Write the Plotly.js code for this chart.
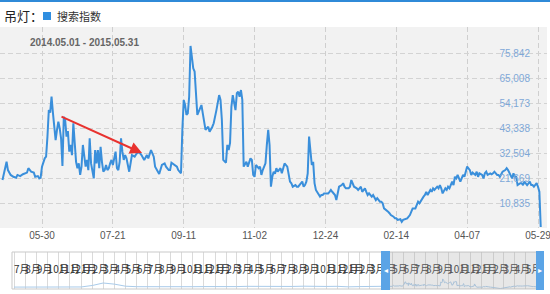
<!DOCTYPE html>
<html><head><meta charset="utf-8">
<script src="https://cdn.plot.ly/plotly-3.0.1.min.js"></script>
<style>html,body{margin:0;padding:0;background:#fff}#chart{width:550px;height:294px}</style>
</head><body><div id="chart"></div>
<script>
// ---------- data ----------
const keywordLabel = '吊灯：';
const seriesName = '搜索指数';
const rangeLabel = '2014.05.01 - 2015.05.31';
const startDate = '2014-05-01';
const dayOffset = [
0,3,4,6,8,10,11,13,15,18,19,21,23,24,26,27,28,29,31,32,33,34,35,36,37,38,39,40,41,42,43,44,45,46,47,48,49,50,51,52,53,54,55,56,57,58,59,61,62,63,64,65,67,68,69,70,71,72,73,74,75,76,77,78,79,80,81,83,84,85,86,87,88,89,90,91,93,94,95,97,98,100,102,104,106,107,109,111,112,115,117,119,120,122,123,124,126,128,129,131,132,133,134,135,136,137,138,139,140,141,142,143,144,146,147,148,149,151,152,154,155,157,158,159,160,161,162,163,164,165,166,167,168,169,170,171,172,173,174,175,176,177,179,180,182,183,184,185,186,188,189,190,191,193,194,195,196,197,198,199,200,201,202,204,205,206,207,209,210,211,212,213,215,216,217,218,220,221,222,223,224,225,226,227,228,229,230,232,233,234,235,236,238,239,240,241,242,244,245,246,247,249,250,251,252,254,255,256,257,258,260,261,262,263,264,266,267,268,269,271,272,273,274,275,277,278,279,280,282,283,284,285,287,288,289,290,292,293,294,295,297,299,300,301,303,304,305,306,308,309,310,311,312,314,315,316,317,319,320,321,322,323,325,326,327,328,330,331,332,333,334,336,337,338,339,340,341,343,344,345,347,348,349,350,352,353,354,355,356,358,359,360,361,363,364,365,366,367,369,370,371,372,374,375,376,377,378,380,381,382,383,385,386,387,388,389,390,391,392,393,394,395
];
const searchIndex = [
20800,28700,25100,23000,22200,21800,23000,22500,23300,24000,25900,24400,24000,22200,22500,21500,21800,26600,30200,30900,39600,51100,50000,56900,50000,42500,38100,42500,46100,43200,38900,26900,48200,46800,39600,42000,33100,36000,31600,45400,35200,28700,25900,28000,23000,26600,36000,26600,29500,25100,38900,28000,21500,33800,28000,33800,25900,35200,28700,24400,25100,27300,25100,25900,28000,29500,27300,33100,25900,25100,28700,38900,33100,29500,31600,30200,24400,28700,31600,30900,31900,33100,31600,29500,31600,30200,33800,30900,26600,23400,27300,28000,26600,25100,25100,28300,27300,26600,25100,23700,42500,55500,53300,49000,49700,56900,78900,74200,69200,67800,56900,49000,50400,53300,49700,46800,42500,43900,41700,43900,45400,51100,54700,57600,55500,46800,29500,28700,28300,36000,33800,36900,52600,57600,53300,51100,58400,59100,56900,59800,55500,26600,28700,26600,30200,29500,23000,22200,27300,25900,26600,23000,25100,28000,36000,42500,36000,17900,22200,24400,23500,25900,24400,25900,23700,25900,28000,26600,22200,20100,19400,17900,18600,17900,17900,18600,20100,17900,18600,20100,23700,39600,32400,27300,28700,19400,16500,14300,13600,14300,14300,15000,15000,15000,15700,16500,15700,14300,12100,15000,17900,18600,19400,17900,17200,17200,17900,20800,19400,17900,17200,16500,17200,17900,15700,17200,15700,14300,15000,13600,14300,12900,12100,12900,11400,11400,10700,8500,7800,7100,6400,5600,4900,4200,4200,3500,3800,2700,3500,3800,4200,5600,7100,8500,8500,10000,11400,10700,12900,13600,14300,15700,14300,16500,15700,17200,16500,17900,17200,18600,17200,15000,17200,16500,17900,17200,20100,18600,22200,21500,23000,20100,21500,23000,22200,24400,26600,25100,23000,24000,23000,24400,22200,23700,23000,21500,23700,24400,23000,23700,23300,23700,24400,23000,23000,22200,23700,24400,25100,25900,25100,23700,21500,23700,22200,22200,18600,19400,19400,18600,20100,18600,19400,20100,18600,18600,17900,18600,19400,17900,15700,400
];
const yTickVals = [10835, 21669, 32504, 43338, 54173, 65008, 75842];
const yTickText = ['10,835', '21,669', '32,504', '43,338', '54,173', '65,008', '75,842'];
const xTickVals = ['2014-05-30', '2014-07-21', '2014-09-11', '2014-11-02', '2014-12-24', '2015-02-14', '2015-04-07', '2015-05-29'];
const xTickText = ['05-30', '07-21', '09-11', '11-02', '12-24', '02-14', '04-07', '05-29'];
// arrow drawn on the chart (tail -> head), in data units
const arrowTail = {x: '2014-06-12 05:00', y: 48540};
const arrowHead = {x: '2014-08-11 10:00', y: 32500};
// overview slider
const sliderStartMonth = '2011-07-01';
const sliderMonthLabels = ['7月','8月','9月','10月','11月','12月',
  '1月','2月','3月','4月','5月','6月','7月','8月','9月','10月','11月','12月',
  '1月','2月','3月','4月','5月','6月','7月','8月','9月','10月','11月','12月',
  '1月','2月','3月','4月','5月','6月','7月','8月','9月','10月','11月','12月',
  '1月','2月','3月','4月','5月'];
const historyValues = [15000,16000,17000,16000,15000,17000,16000,28000,47000,38000,22000,18000,17000,18000,20000,17000,18000,19000,17000,15000,19000,21000,20000,18000,19000,20000,22000,19000,20000,21000,17000,19000,22000,21000];

// ---------- helpers ----------
function addDays(s, n) { const d = new Date(s + 'T00:00:00Z'); d.setUTCDate(d.getUTCDate() + n); return d.toISOString().slice(0, 10); }
function addMonths(s, n) { const d = new Date(s + 'T00:00:00Z'); d.setUTCMonth(d.getUTCMonth() + n); return d.toISOString().slice(0, 10); }
const W = 550, H = 294;
const px = v => v / W, py = v => 1 - v / H;

const dates = dayOffset.map(n => addDays(startDate, n));
const monthDates = sliderMonthLabels.map((_, i) => addMonths(sliderStartMonth, i));
const historyDates = historyValues.map((_, i) => addMonths(sliderStartMonth, i));

const blue = '#3a8fdb';
const traces = [
  {x: dates, y: searchIndex, type: 'scatter', mode: 'lines', xaxis: 'x', yaxis: 'y',
   line: {color: blue, width: 2}, hoverinfo: 'skip'},
  {x: historyDates.concat(dates), y: historyValues.concat(searchIndex), type: 'scatter', mode: 'lines',
   xaxis: 'x2', yaxis: 'y3', line: {color: '#a9cbea', width: 1}, hoverinfo: 'skip'},
  {x: monthDates, y: monthDates.map(() => 0.5), text: sliderMonthLabels, type: 'scatter', mode: 'text',
   textposition: 'middle right', xaxis: 'x2', yaxis: 'y2', cliponaxis: true,
   textfont: {family: 'Noto Sans CJK SC, sans-serif', size: 10, color: '#333'}, hoverinfo: 'skip'}
];

const layout = {
  width: W, height: H, margin: {l: 0, r: 0, t: 0, b: 0},
  paper_bgcolor: '#fff', plot_bgcolor: 'rgba(0,0,0,0)', showlegend: false,
  font: {family: 'Liberation Sans, Arial, sans-serif'},
  xaxis: {domain: [0, px(547)], type: 'date', range: ['2014-04-29 04:20', '2015-06-04 14:24'],
    tickmode: 'array', tickvals: xTickVals, ticktext: xTickText, ticks: '', ticklabeloverflow: 'allow',
    tickfont: {size: 10, color: '#555'}, showgrid: true, gridcolor: '#cfcfcf', griddash: '5px,3px',
    zeroline: false, showline: false, fixedrange: true},
  yaxis: {domain: [py(228), py(27)], range: [0, 87113], side: 'right', ticklabelposition: 'inside',
    tickmode: 'array', tickvals: yTickVals, ticktext: yTickText, ticks: '', ticklabelstandoff: 14,
    ticklabeloverflow: 'allow',
    tickfont: {size: 10, color: '#7ea8d8'}, showgrid: true, gridcolor: '#d3d3d3', griddash: '5px,3px',
    zeroline: false, showline: false, fixedrange: true},
  xaxis2: {domain: [px(12), px(543)], type: 'date', range: ['2011-06-25 12:40', '2015-06-17 10:00'],
    anchor: 'y2', showticklabels: false, ticks: '', tick0: sliderStartMonth, dtick: 'M1',
    showgrid: true, gridcolor: '#dadada', gridwidth: 1, zeroline: false, showline: false, fixedrange: true},
  yaxis2: {domain: [py(289), py(252)], range: [0, 1], anchor: 'x2', visible: false, fixedrange: true},
  yaxis3: {overlaying: 'y2', range: [0, 290000], anchor: 'x2', visible: false, fixedrange: true},
  shapes: [
    {type: 'rect', xref: 'paper', yref: 'paper', x0: 0, x1: 1, y0: py(2), y1: 1, line: {width: 0}, fillcolor: '#2f8ad8', layer: 'below'},
    {type: 'rect', xref: 'paper', yref: 'paper', x0: 0, x1: px(547), y0: py(228), y1: py(27), line: {width: 0}, fillcolor: '#f2f2f2', layer: 'below'},
    {type: 'rect', xref: 'paper', yref: 'paper', x0: px(43), x1: px(51), y0: py(20), y1: py(12), line: {width: 0}, fillcolor: '#2f8ee0'},
    {type: 'rect', xref: 'paper', yref: 'paper', x0: px(12), x1: px(543), y0: py(289), y1: py(252), line: {color: '#c9c9c9', width: 1}, fillcolor: 'rgba(0,0,0,0)', layer: 'above'},
    {type: 'rect', xref: 'paper', yref: 'paper', x0: px(390), x1: px(536), y0: py(289), y1: py(252), line: {width: 0}, fillcolor: 'rgba(170,170,170,0.28)', layer: 'above'},
    {type: 'rect', xref: 'paper', yref: 'paper', x0: px(381), x1: px(390), y0: py(290), y1: py(251), line: {width: 0}, fillcolor: '#5ba4e6', layer: 'above'},
    {type: 'rect', xref: 'paper', yref: 'paper', x0: px(536), x1: px(544), y0: py(290), y1: py(251), line: {width: 0}, fillcolor: '#5ba4e6', layer: 'above'}
  ],
  annotations: [
    {xref: 'paper', yref: 'paper', x: px(2), y: py(16), xanchor: 'left', yanchor: 'middle', showarrow: false,
     text: keywordLabel, font: {family: 'Noto Sans CJK SC, sans-serif', size: 13, color: '#222'}},
    {xref: 'paper', yref: 'paper', x: px(55), y: py(16), xanchor: 'left', yanchor: 'middle', showarrow: false,
     text: seriesName, font: {family: 'Noto Sans CJK SC, sans-serif', size: 11, color: '#333'}},
    {xref: 'paper', yref: 'paper', x: px(28), y: py(42.5), xanchor: 'left', yanchor: 'middle', showarrow: false,
     text: '<b>' + rangeLabel + '</b>', font: {size: 10, color: '#666'}},
    {xref: 'x', yref: 'y', axref: 'x', ayref: 'y', x: arrowHead.x, y: arrowHead.y, ax: arrowTail.x, ay: arrowTail.y,
     text: '', showarrow: true, arrowhead: 2, arrowsize: 1.2, arrowwidth: 2, arrowcolor: '#e8322f'},
    {xref: 'paper', yref: 'paper', x: px(385.5), y: py(270.5), xanchor: 'center', yanchor: 'middle', showarrow: false,
     text: '◂', font: {size: 8, color: '#fff'}},
    {xref: 'paper', yref: 'paper', x: px(540), y: py(270.5), xanchor: 'center', yanchor: 'middle', showarrow: false,
     text: '▸', font: {size: 8, color: '#fff'}}
  ]
};

Plotly.newPlot('chart', traces, layout, {displayModeBar: false, staticPlot: true});
</script></body></html>
